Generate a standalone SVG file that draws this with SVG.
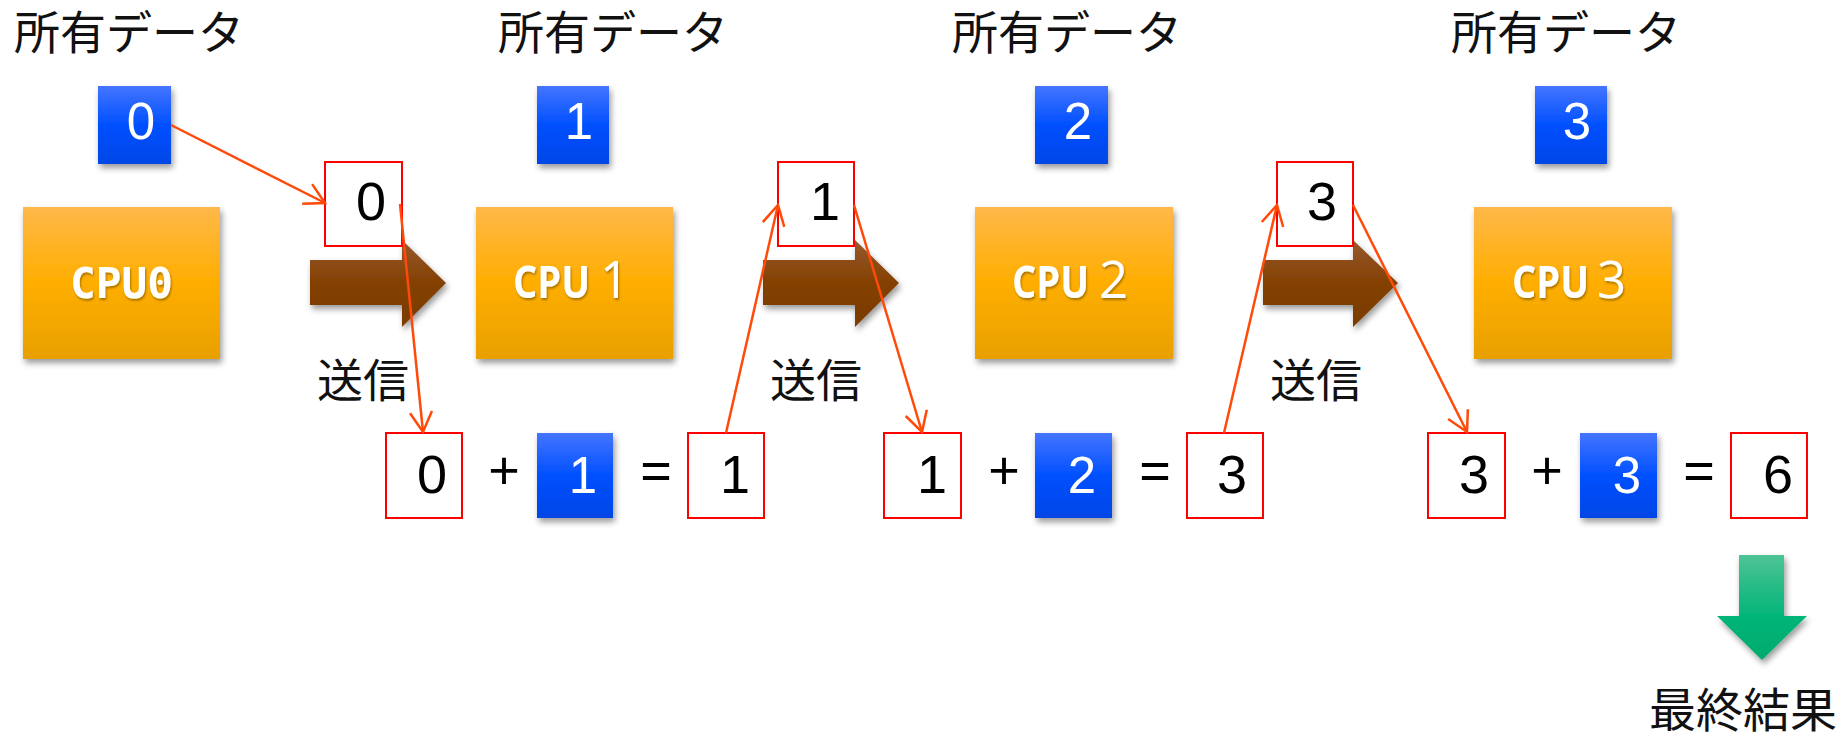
<svg xmlns="http://www.w3.org/2000/svg" width="1845" height="735" viewBox="0 0 1845 735">
<defs>
  <linearGradient id="gOrange" x1="0" y1="0" x2="0" y2="1">
    <stop offset="0" stop-color="#FFB84A"/>
    <stop offset="0.5" stop-color="#FFAE00"/>
    <stop offset="1" stop-color="#E8A000"/>
  </linearGradient>
  <linearGradient id="gBlue" x1="0" y1="0" x2="0" y2="1">
    <stop offset="0" stop-color="#4575FF"/>
    <stop offset="0.5" stop-color="#0050FF"/>
    <stop offset="1" stop-color="#0046E6"/>
  </linearGradient>
  <linearGradient id="gBrown" x1="0" y1="0" x2="0" y2="1">
    <stop offset="0" stop-color="#97592F"/>
    <stop offset="0.5" stop-color="#834000"/>
    <stop offset="1" stop-color="#7A3C00"/>
  </linearGradient>
  <linearGradient id="gGreen" x1="0" y1="0" x2="0" y2="1">
    <stop offset="0" stop-color="#4EC396"/>
    <stop offset="0.6" stop-color="#00B577"/>
    <stop offset="1" stop-color="#00AA6C"/>
  </linearGradient>
  <filter id="shadow" x="-10%" y="-10%" width="130%" height="140%">
    <feGaussianBlur in="SourceAlpha" stdDeviation="3"/>
    <feOffset dx="2" dy="4" result="b"/>
    <feComponentTransfer><feFuncA type="linear" slope="0.4"/></feComponentTransfer>
    <feMerge><feMergeNode/><feMergeNode in="SourceGraphic"/></feMerge>
  </filter>
  <filter id="tshadow" x="-10%" y="-10%" width="130%" height="140%">
    <feGaussianBlur in="SourceAlpha" stdDeviation="1"/>
    <feOffset dx="1" dy="2" result="b"/>
    <feComponentTransfer><feFuncA type="linear" slope="0.35"/></feComponentTransfer>
    <feMerge><feMergeNode/><feMergeNode in="SourceGraphic"/></feMerge>
  </filter>
  <marker id="arr" viewBox="-24 -14 27 28" markerWidth="27" markerHeight="28" refX="0" refY="0" orient="auto" markerUnits="userSpaceOnUse">
    <path d="M-20,-11 L0,0 L-20,11" fill="none" stroke="#FF4A0A" stroke-width="2.5"/>
  </marker>
</defs>
<style>
  .cpu { fill: url(#gOrange); filter: url(#shadow); }
  .blue { fill: url(#gBlue); filter: url(#shadow); }
  .red { fill: #FFFFFF; stroke: #FF0000; stroke-width: 2; }
  .brown { fill: url(#gBrown); filter: url(#shadow); }
  .green { fill: url(#gGreen); filter: url(#shadow); }
  .jp { font-family: 'Noto Sans CJK JP', 'Noto Sans CJK SC', sans-serif; font-size: 46px; fill: #111111; }
  .num { font-family: 'Liberation Sans', Arial, sans-serif; font-size: 54px; fill: #000000; text-anchor: end; }
  .wnum { font-family: 'Liberation Sans', Arial, sans-serif; font-size: 51px; fill: #FFFFFF; text-anchor: end; }
  .op { font-family: 'Liberation Sans', Arial, sans-serif; font-size: 54px; fill: #000000; text-anchor: middle; }
  .cpul { font-family: 'Open Sans', 'Noto Sans', sans-serif; font-weight: bold; font-size: 44px; fill: #FFFFFF; filter: url(#tshadow); }
  .cpun { font-family: 'Open Sans', 'Noto Sans', sans-serif; font-size: 51px; fill: #FFFFFF; filter: url(#tshadow); }
  .cpum { font-family: 'DejaVu Sans Mono', 'Liberation Mono', monospace; font-weight: bold; font-size: 43px; fill: #FFFFFF; filter: url(#tshadow); }
  .conn { fill: none; stroke: #FF4A0A; stroke-width: 2.5; marker-end: url(#arr); }
</style>

<g id="send-arrows">
  <polygon class="brown" points="310,260 402,260 402,240 446,283 402,327 402,305 310,305"/>
  <polygon class="brown" points="763,260 855,260 855,240 899,283 855,327 855,305 763,305"/>
  <polygon class="brown" points="1263,260 1353,260 1353,240 1398,283 1353,327 1353,305 1263,305"/>
</g>

<g id="labels-owned">
  <text class="jp" x="14" y="49">所有データ</text>
  <text class="jp" x="498" y="49">所有データ</text>
  <text class="jp" x="952" y="49">所有データ</text>
  <text class="jp" x="1451" y="49">所有データ</text>
</g>

<g id="cpu0">
  <rect class="cpu" x="23" y="207" width="197" height="152"/>
  <text class="cpum" x="70" y="298" textLength="103" lengthAdjust="spacingAndGlyphs">CPU0</text>
</g>
<g id="cpu1">
  <rect class="cpu" x="476" y="207" width="197" height="152"/>
  <text class="cpul" x="513" y="298" textLength="77" lengthAdjust="spacingAndGlyphs">CPU</text>
  <text class="cpun" x="600" y="298">1</text>
</g>
<g id="cpu2">
  <rect class="cpu" x="975" y="207" width="198" height="152"/>
  <text class="cpul" x="1012" y="298" textLength="77" lengthAdjust="spacingAndGlyphs">CPU</text>
  <text class="cpun" x="1099" y="298">2</text>
</g>
<g id="cpu3">
  <rect class="cpu" x="1474" y="207" width="198" height="152"/>
  <text class="cpul" x="1512" y="298" textLength="77" lengthAdjust="spacingAndGlyphs">CPU</text>
  <text class="cpun" x="1597" y="298">3</text>
</g>

<g id="data0"><rect class="blue" x="98" y="86" width="73" height="78"/><text class="wnum" x="155" y="139">0</text></g>
<g id="data1"><rect class="blue" x="537" y="86" width="72" height="78"/><text class="wnum" x="593" y="139">1</text></g>
<g id="data2"><rect class="blue" x="1035" y="86" width="73" height="78"/><text class="wnum" x="1092" y="139">2</text></g>
<g id="data3"><rect class="blue" x="1535" y="86" width="72" height="78"/><text class="wnum" x="1591" y="139">3</text></g>

<g id="sent0"><rect class="red" x="325" y="162" width="77" height="84"/><text class="num" x="386" y="220">0</text></g>
<g id="sent1"><rect class="red" x="778" y="162" width="76" height="84"/><text class="num" x="840" y="220">1</text></g>
<g id="sent3"><rect class="red" x="1277" y="162" width="76" height="84"/><text class="num" x="1337" y="220">3</text></g>

<g id="labels-send">
  <text class="jp" x="317" y="397">送信</text>
  <text class="jp" x="770" y="397">送信</text>
  <text class="jp" x="1270" y="397">送信</text>
</g>

<g id="calc1">
  <rect class="red" x="386" y="433" width="76" height="85"/><text class="num" x="447" y="493">0</text>
  <text class="op" x="504" y="489">+</text>
  <rect class="blue" x="537" y="433" width="76" height="85"/><text class="wnum" x="597" y="493">1</text>
  <text class="op" x="656" y="489">=</text>
  <rect class="red" x="688" y="433" width="76" height="85"/><text class="num" x="750" y="493">1</text>
</g>
<g id="calc2">
  <rect class="red" x="884" y="433" width="77" height="85"/><text class="num" x="947" y="493">1</text>
  <text class="op" x="1004" y="489">+</text>
  <rect class="blue" x="1035" y="433" width="77" height="85"/><text class="wnum" x="1096" y="493">2</text>
  <text class="op" x="1155" y="489">=</text>
  <rect class="red" x="1187" y="433" width="76" height="85"/><text class="num" x="1247" y="493">3</text>
</g>
<g id="calc3">
  <rect class="red" x="1428" y="433" width="77" height="85"/><text class="num" x="1489" y="493">3</text>
  <text class="op" x="1547" y="489">+</text>
  <rect class="blue" x="1580" y="433" width="77" height="85"/><text class="wnum" x="1641" y="493">3</text>
  <text class="op" x="1699" y="489">=</text>
  <rect class="red" x="1731" y="433" width="76" height="85"/><text class="num" x="1793" y="493">6</text>
</g>

<g id="final">
  <polygon class="green" points="1739,555 1784,555 1784,616 1807,616 1762,660 1717,616 1739,616"/>
  <text class="jp" x="1649" y="727" style="font-size:47px">最終結果</text>
</g>

<g id="connectors">
  <line class="conn" x1="171" y1="125" x2="325" y2="203"/>
  <line class="conn" x1="400" y1="204" x2="423" y2="432"/>
  <line class="conn" x1="726" y1="433" x2="778" y2="205"/>
  <line class="conn" x1="854" y1="205" x2="922" y2="432"/>
  <line class="conn" x1="1224" y1="433" x2="1277" y2="205"/>
  <line class="conn" x1="1353" y1="205" x2="1467" y2="432"/>
</g>
</svg>
